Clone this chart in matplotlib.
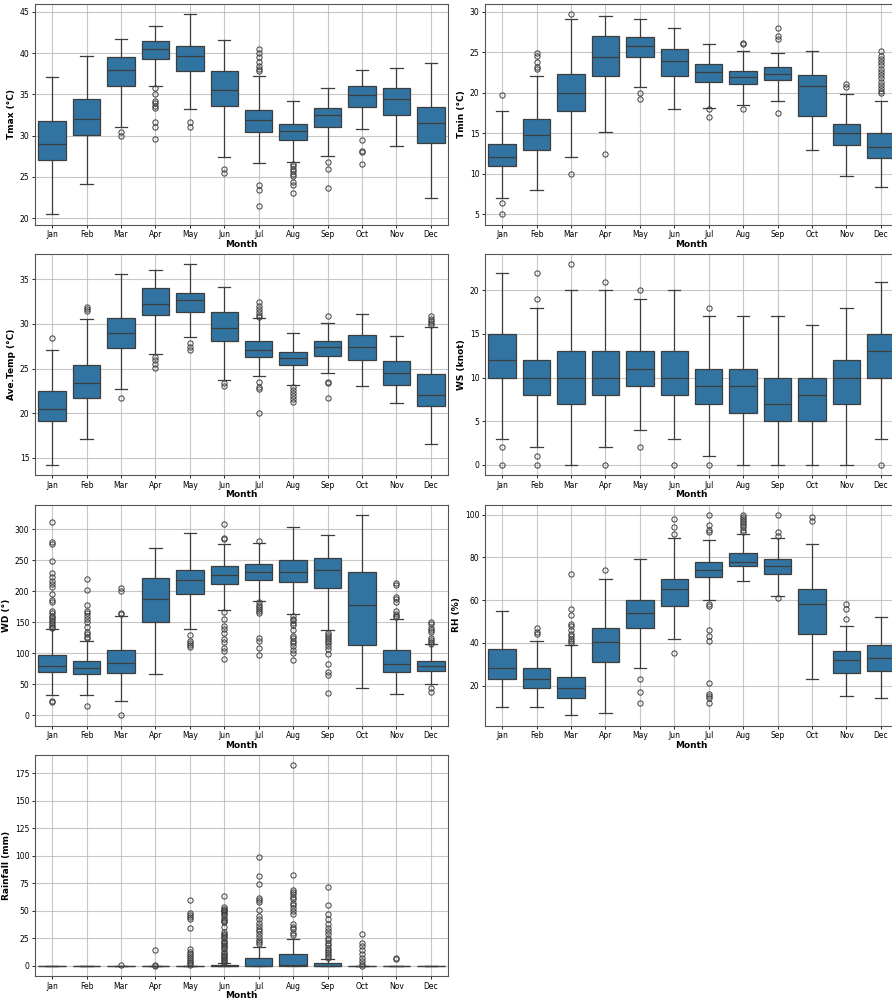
import numpy as np
import matplotlib.pyplot as plt

months = ['Jan', 'Feb', 'Mar', 'Apr', 'May', 'Jun',
          'Jul', 'Aug', 'Sep', 'Oct', 'Nov', 'Dec']

# ---- Tmax (°C) ----
tmax_lo = [20.45, 24.1, 31.0, 36.0, 33.2, 27.4, 26.7, 26.8, 27.55, 30.75, 28.8, 22.5]
tmax_q1 = [27.0, 30.1, 36.0, 39.3, 37.8, 33.6, 30.4, 29.5, 31.0, 33.5, 32.5, 29.05]
tmax_med = [29.0, 32.0, 38.0, 40.5, 39.6, 35.5, 31.9, 30.55, 32.5, 34.9, 34.5, 31.5]
tmax_q3 = [31.77, 34.45, 39.5, 41.5, 40.9, 37.8, 33.15, 31.4, 33.4, 36.0, 35.8, 33.5]
tmax_hi = [37.05, 39.6, 41.75, 43.3, 44.8, 41.6, 37.2, 34.25, 35.8, 38.0, 38.2, 38.75]
tmax_fl = [[], [], [30.5, 30.0],
           [35.8, 35.0, 34.2, 33.9, 33.6, 33.4, 31.6, 31.0, 29.6],
           [31.6, 31.0], [26.0, 25.5],
           [40.45, 40.0, 39.5, 38.95, 38.5, 38.1, 37.8, 24.05, 23.4, 21.5],
           [26.55, 26.3, 26.0, 25.7, 25.4, 25.1, 24.35, 24.0, 23.05],
           [26.8, 26.0, 23.6], [29.5, 28.15, 28.0, 26.6], [], []]

# ---- Tmin (°C) ----
tmin_lo = [7.0, 8.05, 12.14, 15.2, 20.68, 18.04, 18.2, 18.53, 19.0, 13.0, 9.8, 8.42]
tmin_q1 = [11.0, 13.0, 17.83, 22.04, 24.43, 22.04, 21.4, 21.05, 21.54, 17.2, 13.54, 11.93]
tmin_med = [12.14, 14.78, 20.0, 24.4, 25.75, 24.0, 22.53, 22.0, 22.33, 20.8, 15.07, 13.3]
tmin_q3 = [13.7, 16.8, 22.3, 27.0, 26.9, 25.46, 23.6, 22.7, 23.2, 22.16, 16.2, 15.07]
tmin_hi = [17.83, 22.04, 29.1, 29.46, 29.1, 28.0, 26.04, 25.2, 24.97, 25.2, 19.85, 19.0]
tmin_fl = [[19.7, 6.44, 5.0], [24.9, 24.5, 23.85, 23.2, 23.0], [29.8, 10.0], [12.5],
           [20.0, 19.2], [], [18.0, 17.0], [26.2, 26.04, 18.0],
           [28.0, 27.0, 26.6, 17.5], [], [21.1, 20.7],
           [25.2, 24.6, 24.2, 23.8, 23.4, 23.0, 22.6, 22.2, 21.8, 21.4, 21.0, 20.6, 20.3, 20.0]]

# ---- Ave.Temp (°C) ----
avg_lo = [14.22, 17.13, 22.69, 26.64, 28.58, 23.69, 24.18, 23.18, 24.55, 23.03, 21.13, 16.56]
avg_q1 = [19.18, 21.75, 27.28, 30.93, 31.27, 28.1, 26.26, 25.37, 26.38, 25.93, 23.18, 20.76]
avg_med = [20.52, 23.36, 29.0, 32.2, 32.69, 29.5, 27.08, 26.23, 27.38, 27.45, 24.55, 22.06]
avg_q3 = [22.5, 25.41, 30.67, 33.96, 33.47, 31.27, 28.05, 26.9, 28.09, 28.72, 25.86, 24.37]
avg_hi = [27.09, 30.56, 35.6, 36.0, 36.68, 34.1, 30.65, 28.94, 30.1, 31.06, 28.6, 29.65]
avg_fl = [[28.4], [31.87, 31.68, 31.4], [21.75], [26.3, 25.9, 25.5, 25.1],
          [27.84, 27.43, 27.09], [23.4, 23.06],
          [32.4, 32.0, 31.65, 31.3, 31.0, 30.76, 23.44, 22.88, 22.66, 20.06],
          [22.88, 22.58, 22.25, 21.9, 21.58, 21.25],
          [30.84, 23.44, 23.33, 21.65], [], [],
          [30.84, 30.54, 30.32, 30.1, 29.87]]

# ---- WS (knot) ----
ws_lo = [3, 2, 0, 2, 4, 3, 1, 0, 0, 0, 0, 3]
ws_q1 = [10, 8, 7, 8, 9, 8, 7, 6, 5, 5, 7, 10]
ws_med = [12, 10, 10, 10, 11, 10, 9, 9, 7, 8, 10, 13]
ws_q3 = [15, 12, 13, 13, 13, 13, 11, 11, 10, 10, 12, 15]
ws_hi = [22, 18, 20, 20, 19, 20, 17, 17, 17, 16, 18, 21]
ws_fl = [[2, 0], [22, 19, 1, 0], [23], [21, 0], [20, 2], [0],
         [18, 0], [], [], [], [], [0]]

# ---- WD (°) ----
wd_lo = [33.0, 33.5, 22.6, 66.3, 140.0, 170.0, 183.7, 163.0, 137.9, 44.7, 35.0, 50.0]
wd_q1 = [70.1, 66.3, 68.0, 150.3, 195.5, 211.7, 218.0, 214.4, 205.8, 113.0, 70.0, 71.6]
wd_med = [79.8, 76.0, 85.0, 188.0, 218.0, 227.0, 230.5, 231.6, 233.8, 177.8, 82.4, 80.3]
wd_q3 = [97.5, 87.8, 105.0, 222.0, 235.0, 240.0, 243.5, 250.5, 253.0, 231.6, 105.0, 88.4]
wd_hi = [139.0, 120.0, 160.5, 270.4, 294.0, 275.8, 278.5, 303.0, 290.3, 323.7, 155.7, 114.8]
wd_fl = [[311, 280, 276, 249, 229, 223, 217, 212, 207, 196, 186, 183, 169, 165, 161,
          158, 155, 152, 149, 146, 143, 141, 23, 21],
         [220, 202.5, 178, 168, 165, 160.5, 155, 151, 142.7, 135, 131, 127, 124.5, 15],
         [206, 201, 165, 163, 0],
         [],
         [130, 120, 116, 113, 109.6],
         [308.6, 286, 284.4, 166, 155, 144, 139.5, 133.6, 122.8, 118.5, 108.8, 104.5, 91.6],
         [281, 182, 178.3, 175, 171, 168, 165, 124, 120, 108.8, 97],
         [159.5, 156, 153, 149, 145.5, 137.4, 128, 124, 120, 116, 111.5, 106, 101, 89.4],
         [132.5, 129, 126, 123, 119.6, 116, 111.5, 106.7, 98.6, 82.5, 69.5, 65, 35.6],
         [],
         [214, 210.6, 190.7, 187, 182, 168, 164, 161, 158],
         [150.8, 148, 141.7, 137.4, 134.7, 125.5, 122, 119, 115.3, 43.6, 38.2]]

# ---- RH (%) ----
rh_lo = [10, 10, 6, 7, 28, 42, 60, 69, 62, 23, 15, 14]
rh_q1 = [23, 19, 14, 31, 47, 57, 71, 76, 72, 44, 26, 27]
rh_med = [28, 23, 19, 40.5, 54, 65, 74, 78, 76, 58, 32, 33]
rh_q3 = [37, 28, 24, 47, 60, 70, 78, 82, 79, 65, 36, 39]
rh_hi = [55, 41, 39, 70, 79, 89, 88, 91, 89, 86, 48, 52]
rh_fl = [[], [44, 45, 47], [40, 41, 42, 43, 44, 46, 48, 49, 53, 56, 72], [74],
         [23, 17, 12], [91, 94, 98, 35],
         [92, 93, 95, 100, 58, 57, 46, 43, 41, 21, 16, 15, 14, 12],
         [92, 93, 94, 95, 96, 97, 98, 99, 100], [90, 92, 100, 61], [97, 99],
         [51, 56, 58], []]

# ---- Rainfall (mm) ----
rain_lo = [0, 0, 0, 0, 0, 0, 0, 0, 0, 0, 0, 0]
rain_q1 = [0, 0, 0, 0, 0, 0, 0, 0, 0, 0, 0, 0]
rain_med = [0, 0, 0, 0, 0, 0.3, 0.4, 0.5, 0.2, 0, 0, 0]
rain_q3 = [0, 0, 0, 0, 0, 1.2, 7.6, 10.6, 2.7, 0, 0, 0]
rain_hi = [0, 0, 0, 0, 0, 2.7, 17.3, 24.9, 6.4, 0, 0, 0]
rain_fl = [[], [], [0.5], [14.3, 0.9, 0.3],
           [60.3, 47.9, 46.4, 44.9, 42.5, 34.3, 15.2, 13, 11.2, 9.4, 7.6, 5.5, 3.9, 2.4, 0.9],
           [64, 53.5, 52, 51, 50, 49, 47, 46, 44, 42, 41, 40, 35, 31, 29, 28, 26, 25,
            23, 22, 21, 19, 18, 16, 15, 13, 12, 10, 9, 8, 6, 5, 4, 3],
           [98.9, 82.2, 74.3, 61.9, 60, 58.2, 51.3, 45.5, 42.5, 39.4, 36.4, 34, 31.5,
            28.8, 26.4, 24, 21.5, 19.7],
           [182.6, 83.1, 68.9, 67, 65.2, 62.8, 60.4, 57.6, 55.5, 53.1, 50, 47, 37.9,
            35.8, 33.4, 30.3, 28.2],
           [71.9, 55.2, 47.6, 42.5, 38.5, 34.9, 31.8, 28.8, 25.8, 23.4, 21.2, 18.8,
            16.7, 14.6, 12.4, 10.6, 8.8, 7],
           [28.8, 21.2, 18.2, 14.6, 10.9, 7.6, 4.5, 2.1, 0.3],
           [7, 6], []]

box_color = '#3274a1'
line_color = '#3d3d3d'


def draw_box(ax, lo, q1, med, q3, hi, fl, ylabel):
    stats = []
    for i in range(len(months)):
        stats.append(dict(whislo=lo[i], q1=q1[i], med=med[i], q3=q3[i],
                          whishi=hi[i], fliers=np.array(fl[i])))
    ax.bxp(stats, positions=range(len(months)), widths=0.8, capwidths=0.36,
           patch_artist=True, showfliers=True,
           boxprops=dict(facecolor=box_color, edgecolor=line_color, linewidth=0.9),
           medianprops=dict(color=line_color, linewidth=0.9),
           whiskerprops=dict(color=line_color, linewidth=0.9),
           capprops=dict(color=line_color, linewidth=0.9),
           flierprops=dict(marker='o', markerfacecolor='none',
                           markeredgecolor=line_color, markersize=3.8,
                           markeredgewidth=0.7))
    ax.set_xticks(range(len(months)))
    ax.set_xticklabels(months)
    ax.set_xlim(-0.5, len(months) - 0.5)
    ax.set_axisbelow(True)
    ax.grid(True, color='#b0b0b0', alpha=0.7, linewidth=0.8)
    ax.tick_params(labelsize=5.5, length=2.5, width=0.6, pad=1.5)
    for sp in ax.spines.values():
        sp.set_color('#555555')
    ax.set_xlabel('Month', fontsize=6.5, fontweight='bold', labelpad=0.5)
    ax.set_ylabel(ylabel, fontsize=6.5, fontweight='bold', labelpad=3)


fig = plt.figure(figsize=(8.92, 9.99), dpi=100)

W, H = 892.0, 999.0
col_left = [35, 485]
row_top = [3.5, 254, 504.5, 755]
ax_w, ax_h = 413, 221

panels = [
    (0, 0, tmax_lo, tmax_q1, tmax_med, tmax_q3, tmax_hi, tmax_fl, 'Tmax (°C)'),
    (0, 1, tmin_lo, tmin_q1, tmin_med, tmin_q3, tmin_hi, tmin_fl, 'Tmin (°C)'),
    (1, 0, avg_lo, avg_q1, avg_med, avg_q3, avg_hi, avg_fl, 'Ave.Temp (°C)'),
    (1, 1, ws_lo, ws_q1, ws_med, ws_q3, ws_hi, ws_fl, 'WS (knot)'),
    (2, 0, wd_lo, wd_q1, wd_med, wd_q3, wd_hi, wd_fl, 'WD (°)'),
    (2, 1, rh_lo, rh_q1, rh_med, rh_q3, rh_hi, rh_fl, 'RH (%)'),
    (3, 0, rain_lo, rain_q1, rain_med, rain_q3, rain_hi, rain_fl, 'Rainfall (mm)'),
]

for r, c, lo, q1, med, q3, hi, fl, lab in panels:
    ax = fig.add_axes([col_left[c] / W, 1 - (row_top[r] + ax_h) / H, ax_w / W, ax_h / H])
    draw_box(ax, lo, q1, med, q3, hi, fl, lab)

fig.savefig('out.png', dpi=100)
